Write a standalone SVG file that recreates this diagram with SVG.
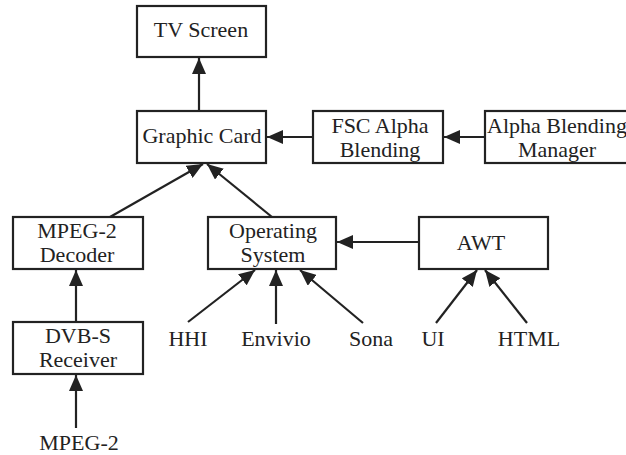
<svg xmlns="http://www.w3.org/2000/svg" width="626" height="455" viewBox="0 0 626 455">
<style>
.box{fill:#fff;stroke:#222;stroke-width:2.2}
.t{font-family:"Liberation Serif","Times New Roman",serif;font-size:22px;fill:#222;text-anchor:middle}
.c line{stroke:#222;stroke-width:2.2;marker-end:url(#ah)}
</style>
<defs>
<marker id="ah" viewBox="0 0 16 14" refX="16" refY="7" markerWidth="16" markerHeight="14" orient="auto" markerUnits="userSpaceOnUse">
<path d="M0,0 L16,7 L0,14 Z" fill="#222"/>
</marker>
</defs>
<rect width="626" height="455" fill="#fff"/>
<g id="tv"><rect class="box" x="137" y="6" width="129" height="51"/><text class="t" x="201" y="37">TV Screen</text></g>
<g id="gc"><rect class="box" x="137" y="111" width="129" height="52"/><text class="t" x="202" y="143">Graphic Card</text></g>
<g id="fsc"><rect class="box" x="313" y="111" width="130" height="52"/><text class="t" x="380" y="133">FSC Alpha</text><text class="t" x="380" y="157">Blending</text></g>
<g id="abm"><rect class="box" x="485" y="111" width="145" height="52"/><text class="t" x="557" y="133">Alpha Blending</text><text class="t" x="557" y="157">Manager</text></g>
<g id="dec"><rect class="box" x="13" y="217" width="130" height="52"/><text class="t" x="77" y="238">MPEG-2</text><text class="t" x="77" y="262">Decoder</text></g>
<g id="os"><rect class="box" x="208" y="217" width="128" height="52"/><text class="t" x="273" y="238">Operating</text><text class="t" x="273" y="262">System</text></g>
<g id="awt"><rect class="box" x="419" y="217" width="129" height="52"/><text class="t" x="481" y="250">AWT</text></g>
<g id="dvb"><rect class="box" x="13" y="322" width="130" height="52"/><text class="t" x="78" y="343">DVB-S</text><text class="t" x="78" y="367">Receiver</text></g>
<g id="mpeg"><text class="t" x="79" y="450">MPEG-2</text></g>
<g id="hhi"><text class="t" x="188" y="346">HHI</text></g>
<g id="envivio"><text class="t" x="276" y="346">Envivio</text></g>
<g id="sona"><text class="t" x="371" y="346">Sona</text></g>
<g id="ui"><text class="t" x="433" y="346">UI</text></g>
<g id="html"><text class="t" x="529" y="346">HTML</text></g>
<g class="c" id="connectors">
<line x1="199" y1="111" x2="199" y2="58"/>
<line x1="313" y1="137" x2="267" y2="137"/>
<line x1="485" y1="137" x2="444" y2="137"/>
<line x1="110" y1="217" x2="203" y2="164"/>
<line x1="272" y1="217" x2="207" y2="164"/>
<line x1="76" y1="322" x2="76" y2="270"/>
<line x1="76" y1="428" x2="76" y2="375"/>
<line x1="419" y1="242" x2="337" y2="242"/>
<line x1="188" y1="322" x2="255" y2="270"/>
<line x1="276" y1="324" x2="276" y2="270"/>
<line x1="363" y1="323" x2="300" y2="270"/>
<line x1="436" y1="323" x2="477" y2="270"/>
<line x1="527" y1="323" x2="485" y2="270"/>
</g>
</svg>
